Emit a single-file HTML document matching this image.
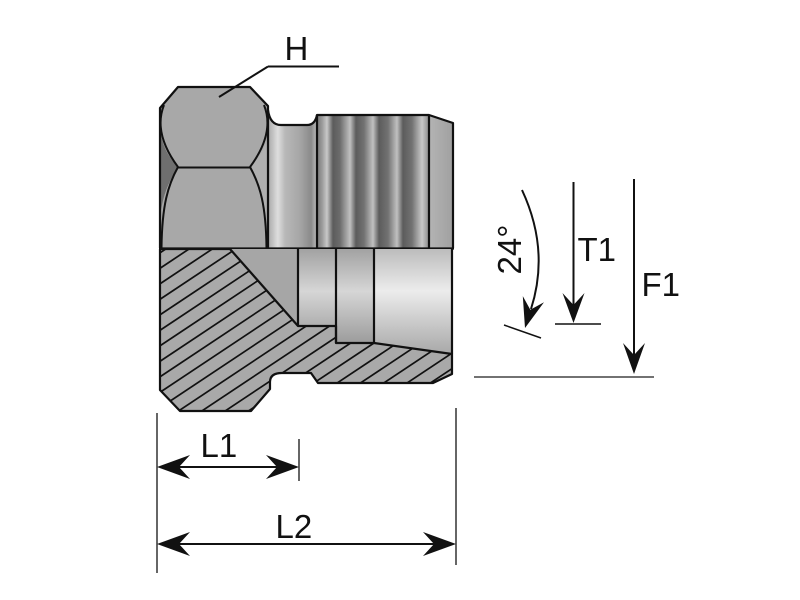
<!DOCTYPE html>
<html><head><meta charset="utf-8"><style>
html,body{margin:0;padding:0;background:#fff;}
svg{display:block;}
text{font-family:"Liberation Sans",Arial,sans-serif;fill:#111;}
</style></head><body>
<svg width="800" height="600" viewBox="0 0 800 600" xmlns="http://www.w3.org/2000/svg">
<defs>
  <linearGradient id="thr" x1="317" y1="0" x2="429" y2="0" gradientUnits="userSpaceOnUse">
    <stop offset="0" stop-color="#7a7a7a"/>
    <stop offset="0.045" stop-color="#9a9a9a"/>
    <stop offset="0.089" stop-color="#c8c8c8"/>
    <stop offset="0.143" stop-color="#5c5c5c"/>
    <stop offset="0.205" stop-color="#6c6c6c"/>
    <stop offset="0.295" stop-color="#c0c0c0"/>
    <stop offset="0.348" stop-color="#5c5c5c"/>
    <stop offset="0.42" stop-color="#727272"/>
    <stop offset="0.50" stop-color="#c0c0c0"/>
    <stop offset="0.554" stop-color="#5c5c5c"/>
    <stop offset="0.634" stop-color="#727272"/>
    <stop offset="0.714" stop-color="#c0c0c0"/>
    <stop offset="0.768" stop-color="#5c5c5c"/>
    <stop offset="0.848" stop-color="#727272"/>
    <stop offset="0.938" stop-color="#c8c8c8"/>
    <stop offset="1" stop-color="#8a8a8a"/>
  </linearGradient>
  <linearGradient id="neck" x1="268" y1="0" x2="317" y2="0" gradientUnits="userSpaceOnUse">
    <stop offset="0" stop-color="#a8a8a8"/>
    <stop offset="0.2" stop-color="#dedede"/>
    <stop offset="0.35" stop-color="#b8b8b8"/>
    <stop offset="0.65" stop-color="#a6a6a6"/>
    <stop offset="0.88" stop-color="#8a8a8a"/>
    <stop offset="1" stop-color="#bdbdbd"/>
  </linearGradient>
  <linearGradient id="cham" x1="429" y1="0" x2="453" y2="0" gradientUnits="userSpaceOnUse">
    <stop offset="0" stop-color="#b4b4b4"/>
    <stop offset="1" stop-color="#a0a0a0"/>
  </linearGradient>
  <linearGradient id="bore1" x1="0" y1="249" x2="0" y2="343" gradientUnits="userSpaceOnUse">
    <stop offset="0" stop-color="#a2a2a2"/>
    <stop offset="0.45" stop-color="#d6d6d6"/>
    <stop offset="1" stop-color="#9c9c9c"/>
  </linearGradient>
  <linearGradient id="bore3" x1="0" y1="249" x2="0" y2="354" gradientUnits="userSpaceOnUse">
    <stop offset="0" stop-color="#bcbcbc"/>
    <stop offset="0.4" stop-color="#ececec"/>
    <stop offset="1" stop-color="#a8a8a8"/>
  </linearGradient>
  <clipPath id="hc">
    <path d="M160,249 L230,249 L298,326 L336,326 L336,343 L374,343 L452,354 L452,374 L433,383 L318,383 L311,373 L282,373 Q270,373 270,382 L270,389 L251,411 L180,411 L160,390 Z"/>
  </clipPath>
</defs>

<!-- ===== Upper half ===== -->
<!-- hex body -->
<path d="M160,248 L160,108 L178,87 L250,87 L268,106 L268,248 Z" fill="#a8a8a8"/>
<!-- dark wedge -->
<path d="M160,140 L161,135 C164,150 170,158 178,167 C170,180 165,190 162,205 L160,215 Z" fill="#6f6f6f"/>
<!-- right sliver -->
<path d="M266,110 C271,130 268,150 250,167 C258,185 265,210 267,248 L268,248 L268,108 Z" fill="#b0b0b0"/>
<!-- hex face lines -->
<g fill="none" stroke="#111" stroke-width="2">
  <path d="M164,105 C158,120 158,140 178,167"/>
  <path d="M264,105 C270,120 270,140 250,167"/>
  <line x1="178" y1="167.5" x2="250" y2="167.5"/>
  <path d="M178,167 C168,185 162,205 161.5,248"/>
  <path d="M250,167 C260,185 266,205 266.5,248"/>
</g>
<!-- neck -->
<path d="M268,112 Q270,125 281,125 L307,125 Q315,125 317,115 L317,248 L268,248 Z" fill="url(#neck)"/>
<!-- threads -->
<rect x="317" y="115" width="112" height="133" fill="url(#thr)"/>
<!-- right chamfer part -->
<path d="M429,115 L453,123 L453,248 L429,248 Z" fill="url(#cham)"/>
<!-- upper outlines -->
<g fill="none" stroke="#111" stroke-width="2.2" stroke-linejoin="round">
  <path d="M160,248 L160,108 L178,87 L250,87 L268,106 L268,248"/>
  <path d="M268,110 Q270,125 281,125 L307,125 Q315,125 317,115 L429,115 L453,123 L453,248"/>
  <line x1="317" y1="115" x2="317" y2="248"/>
  <line x1="429" y1="115" x2="429" y2="248"/>
  <line x1="159" y1="248.5" x2="454" y2="248.5"/>
</g>

<!-- ===== Lower half ===== -->
<path d="M230,249 L298,249 L298,326 Z" fill="#a6a6a6"/>
<rect x="298" y="249" width="38" height="77" fill="url(#bore1)"/>
<rect x="336" y="249" width="38" height="94" fill="url(#bore1)"/>
<path d="M374,249 L452,249 L452,354 L374,343 Z" fill="url(#bore3)"/>
<!-- hatched section -->
<path d="M160,249 L230,249 L298,326 L336,326 L336,343 L374,343 L452,354 L452,374 L433,383 L318,383 L311,373 L282,373 Q270,373 270,382 L270,389 L251,411 L180,411 L160,390 Z" fill="#a9a9a9"/>
<g clip-path="url(#hc)" stroke="#111" stroke-width="1.7">
  <line x1="150" y1="259.45" x2="460" y2="53.3"/>
  <line x1="150" y1="274.95" x2="460" y2="68.8"/>
  <line x1="150" y1="290.45" x2="460" y2="84.3"/>
  <line x1="150" y1="305.95" x2="460" y2="99.8"/>
  <line x1="150" y1="321.45" x2="460" y2="115.3"/>
  <line x1="150" y1="336.95" x2="460" y2="130.8"/>
  <line x1="150" y1="352.45" x2="460" y2="146.3"/>
  <line x1="150" y1="367.95" x2="460" y2="161.8"/>
  <line x1="150" y1="383.45" x2="460" y2="177.3"/>
  <line x1="150" y1="398.95" x2="460" y2="192.8"/>
  <line x1="150" y1="414.45" x2="460" y2="208.3"/>
  <line x1="150" y1="429.95" x2="460" y2="223.8"/>
  <line x1="150" y1="445.45" x2="460" y2="239.3"/>
  <line x1="150" y1="460.95" x2="460" y2="254.8"/>
  <line x1="150" y1="476.45" x2="460" y2="270.3"/>
  <line x1="150" y1="491.95" x2="460" y2="285.8"/>
  <line x1="150" y1="507.45" x2="460" y2="301.3"/>
  <line x1="150" y1="522.95" x2="460" y2="316.8"/>
  <line x1="150" y1="538.45" x2="460" y2="332.3"/>
  <line x1="150" y1="553.95" x2="460" y2="347.8"/>
  <line x1="150" y1="569.45" x2="460" y2="363.3"/>
  <line x1="150" y1="584.95" x2="460" y2="378.8"/>
  <line x1="150" y1="600.45" x2="460" y2="394.3"/>
  <line x1="150" y1="615.95" x2="460" y2="409.8"/>
</g>
<g fill="none" stroke="#111" stroke-width="2.2" stroke-linejoin="round">
  <path d="M160,249 L230,249 L298,326 L336,326 L336,343 L374,343 L452,354 L452,374 L433,383 L318,383 L311,373 L282,373 Q270,373 270,382 L270,389 L251,411 L180,411 L160,390 Z"/>
  <line x1="298" y1="249" x2="298" y2="326"/>
  <line x1="336" y1="249" x2="336" y2="343"/>
  <line x1="374" y1="249" x2="374" y2="343"/>
  <line x1="452" y1="248" x2="452" y2="354"/>
</g>

<!-- ===== H label ===== -->
<g stroke="#111" stroke-width="2" fill="none">
  <line x1="268" y1="66.5" x2="339" y2="66.5"/>
  <line x1="268" y1="66.5" x2="219" y2="97"/>
</g>
<text x="284.5" y="60" font-size="33">H</text>

<!-- ===== L1 / L2 dimensions ===== -->
<g stroke="#333" stroke-width="1.5">
  <line x1="157" y1="413" x2="157" y2="573"/>
  <line x1="456" y1="408" x2="456" y2="565"/>
  <line x1="299" y1="439" x2="299" y2="481"/>
</g>
<g stroke="#111" stroke-width="2">
  <line x1="175" y1="467" x2="281" y2="467"/>
  <line x1="175" y1="544" x2="438" y2="544"/>
</g>
<g fill="#111">
  <path d="M157,467 L190,455 L179,467 L190,479 Z"/>
  <path d="M299,467 L266,455 L277,467 L266,479 Z"/>
  <path d="M157,544 L190,532 L179,544 L190,556 Z"/>
  <path d="M456,544 L423,532 L434,544 L423,556 Z"/>
</g>
<text x="200.5" y="457" font-size="33">L1</text>
<text x="275.5" y="538" font-size="33">L2</text>

<!-- ===== right dimensions ===== -->
<line x1="474" y1="377" x2="654" y2="377" stroke="#444" stroke-width="1.6"/>
<line x1="634" y1="179" x2="634" y2="358" stroke="#111" stroke-width="2"/>
<path d="M634,374 L623,343 L634,355 L645,343 Z" fill="#111"/>
<line x1="573.5" y1="182" x2="573.5" y2="308" stroke="#111" stroke-width="2"/>
<path d="M573.5,323 L562.5,293 L573.5,305 L584.5,293 Z" fill="#111"/>
<line x1="555" y1="324" x2="601" y2="324" stroke="#111" stroke-width="1.6"/>
<text x="577.5" y="261" font-size="33">T1</text>
<text x="641.5" y="296" font-size="33">F1</text>

<!-- 24 degree -->
<path d="M522,190 Q550,250 531,309" fill="none" stroke="#111" stroke-width="2"/>
<path d="M525,328 L522.8,296.1 L530.3,309.8 L544,302.3 Z" fill="#111"/>
<line x1="504" y1="325" x2="541" y2="338" stroke="#111" stroke-width="1.5"/>
<text transform="translate(521,274.5) rotate(-90)" x="0" y="0" font-size="33">24°</text>
</svg>
</body></html>
